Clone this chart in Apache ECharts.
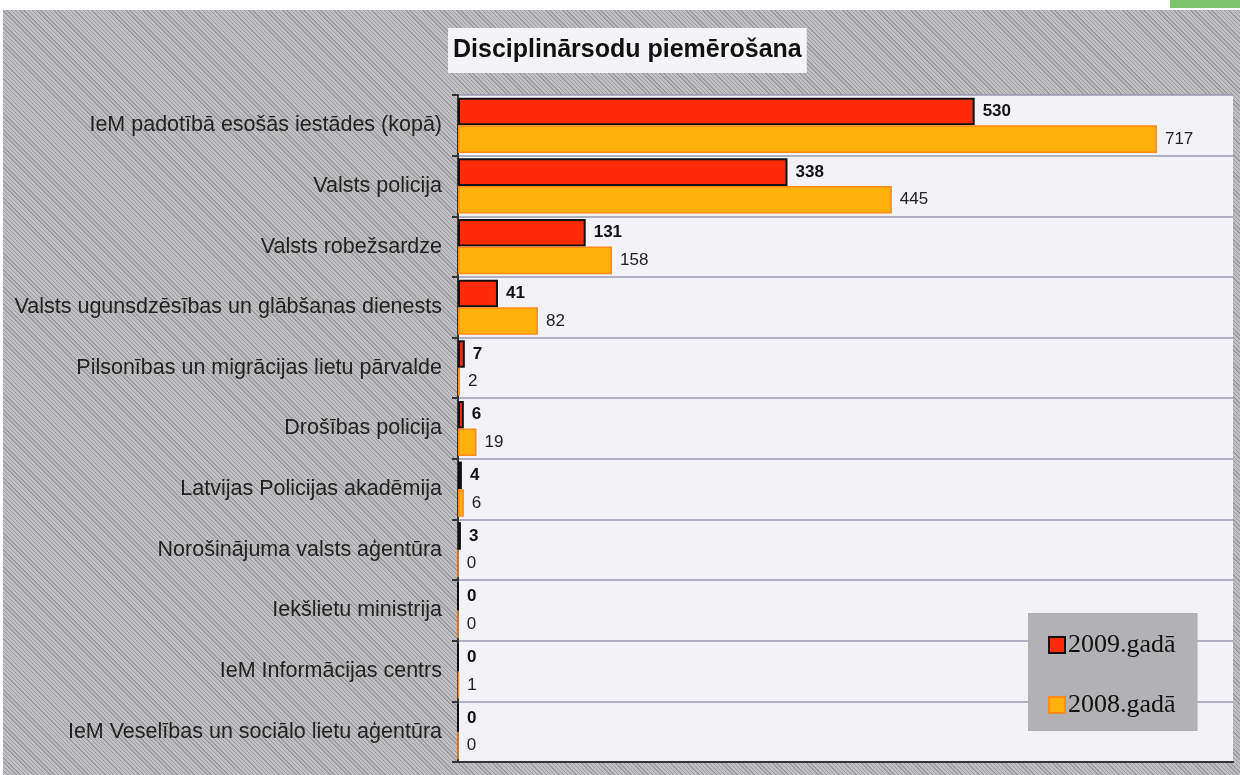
<!DOCTYPE html>
<html>
<head>
<meta charset="utf-8">
<script src="https://cdn.jsdelivr.net/npm/echarts@6/dist/echarts.min.js"></script>
<style>
  html, body { margin: 0; padding: 0; background: #fff; }
  .kuang { position: relative; width: 1240px; height: 775px; }
  .hatch {
    position: absolute; left: 3px; top: 10px; right: 0; bottom: 0;
    background: repeating-linear-gradient(45deg, #9c9c9e 0 1px, #c0c0c2 1px 3px);
  }
  .tag { position: absolute; right: 0; top: 0; width: 70px; height: 8px; background: #7fc46a; }
  #chart { position: absolute; left: 0; top: 0; width: 1240px; height: 775px; }
</style>
</head>
<body>
<div class="kuang">
  <div class="hatch"></div>
  <div class="tag"></div>
  <div id="chart"></div>
</div>
<script>
// kategorijas un vērtības nolasītas no attēla
const categories = [
  "IeM padotībā esošās iestādes (kopā)",
  "Valsts policija",
  "Valsts robežsardze",
  "Valsts ugunsdzēsības un glābšanas dienests",
  "Pilsonības un migrācijas lietu pārvalde",
  "Drošības policija",
  "Latvijas Policijas akadēmija",
  "Norošinājuma valsts aģentūra",
  "Iekšlietu ministrija",
  "IeM Informācijas centrs",
  "IeM Veselības un sociālo lietu aģentūra"
];
const values2009 = [530, 338, 131, 41, 7, 6, 4, 3, 0, 0, 0];
const values2008 = [717, 445, 158, 82, 2, 19, 6, 0, 0, 1, 0];
const seriesNames = ["2009.gadā", "2008.gadā"];

const myChart = echarts.init(document.getElementById("chart"));
const option = {
  backgroundColor: "transparent",
  animation: false,
  title: {
    text: "Disciplinārsodu piemērošana",
    left: 448,
    top: 28,
    padding: [10, 5, 10, 5],
    backgroundColor: "#f4f4f7",
    textStyle: {
      fontFamily: "Liberation Sans, Arial, sans-serif",
      fontSize: 25,
      fontWeight: "bold",
      color: "#111"
    }
  },
  legend: {
    orient: "vertical",
    left: 1028,
    top: 613,
    padding: [19, 22, 13, 20],
    itemGap: 34,
    itemWidth: 16,
    itemHeight: 16,
    icon: "rect",
    backgroundColor: "#b2b2b4",
    textStyle: {
      fontFamily: "Liberation Serif, Times New Roman, serif",
      fontSize: 26,
      color: "#111",
      padding: [0, 0, 0, -2]
    },
    data: seriesNames
  },
  grid: {
    left: 458,
    right: 7,
    top: 95,
    bottom: 13,
    show: true,
    backgroundColor: "#f3f3f7",
    borderWidth: 0
  },
  xAxis: {
    type: "value",
    min: 0,
    max: 795,
    axisLabel: { show: false },
    axisTick: { show: false },
    axisLine: { show: true, lineStyle: { color: "#333", width: 2 } },
    splitLine: { show: false }
  },
  yAxis: {
    type: "category",
    inverse: true,
    data: categories,
    axisLine: { show: true, lineStyle: { color: "#333", width: 2 } },
    axisTick: { show: true, length: 6, lineStyle: { color: "#333", width: 2 } },
    axisLabel: {
      margin: 16,
      fontFamily: "Liberation Sans, Arial, sans-serif",
      fontSize: 21.5,
      color: "#222"
    },
    splitLine: { show: true, lineStyle: { color: "#9a9ab2", width: 1.5 } }
  },
  series: [
    {
      name: seriesNames[0],
      type: "bar",
      data: values2009,
      barGap: "0%",
      barCategoryGap: "9%",
      itemStyle: { color: "#ff2a08", borderColor: "#111", borderWidth: 2 },
      label: {
        show: true,
        position: "right",
        distance: 8,
        fontFamily: "Liberation Sans, Arial, sans-serif",
        fontSize: 17,
        fontWeight: "bold",
        color: "#111"
      }
    },
    {
      name: seriesNames[1],
      type: "bar",
      data: values2008,
      barGap: "0%",
      barCategoryGap: "9%",
      itemStyle: { color: "#ffb00a", borderColor: "#ff8a1a", borderWidth: 1.5 },
      label: {
        show: true,
        position: "right",
        distance: 8,
        fontFamily: "Liberation Sans, Arial, sans-serif",
        fontSize: 17,
        color: "#222"
      }
    }
  ]
};
myChart.setOption(option, true);
</script>
</body>
</html>
